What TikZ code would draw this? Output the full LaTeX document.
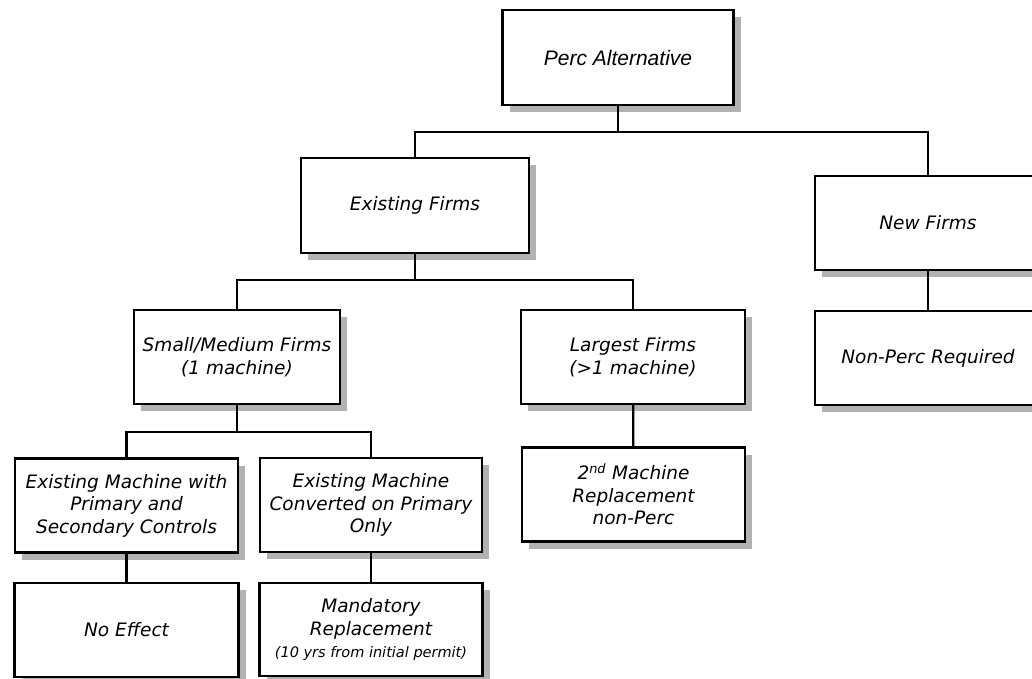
\documentclass[tikz,border=0pt]{standalone}
\usepackage{fontspec}
\setmainfont{DejaVu Sans}
\newfontfamily\arialfont{Liberation Sans}
\usetikzlibrary{shadows}

\tikzset{
  box/.style={draw, rectangle, line width=2.2pt, fill=white, inner sep=0pt, align=center,
    font=\itshape\fontsize{18.5}{22.5}\selectfont,
    drop shadow={shadow xshift=7pt, shadow yshift=-7pt, fill=black!30, opacity=1}},
  link/.style={line width=2.2pt}
}

\begin{document}
\begin{tikzpicture}[x=1pt,y=-1pt]
\useasboundingbox (0,0) rectangle (1032,679);
\clip (0,0) rectangle (1032,679);

\node[box,minimum width=231pt,minimum height=95pt,font=\arialfont\itshape\fontsize{21}{25}\selectfont] (perc) at (618,57.5) {Perc Alternative};
\node[box,minimum width=228pt,minimum height=95pt] (exist) at (415,205.5) {Existing Firms};
\node[box,minimum width=226pt,minimum height=94pt] (newf) at (928,223) {New Firms};
\node[box,minimum width=226pt,minimum height=94pt] (nonperc) at (928,358) {Non-Perc Required};
\node[box,minimum width=206pt,minimum height=94pt] (small) at (237,357) {Small/Medium Firms\\(1 machine)};
\node[box,minimum width=224pt,minimum height=94pt] (large) at (633,357) {Largest Firms\\(\textgreater1 machine)};
\node[box,minimum width=223pt,minimum height=94pt] (primsec) at (126.5,505.5) {Existing Machine with\\Primary and\\Secondary Controls};
\node[box,minimum width=222pt,minimum height=94pt] (conv) at (371,505) {Existing Machine\\Converted on Primary\\Only};
\node[box,minimum width=223pt,minimum height=94pt] (second) at (633.5,494.5) {2\textsuperscript{nd} Machine\\Replacement\\non-Perc};
\node[box,minimum width=224pt,minimum height=94pt] (noeff) at (126.5,630) {No Effect};
\node[box,minimum width=223pt,minimum height=93pt] (mand) at (371,629.5) {Mandatory\\Replacement\\{\fontsize{14.5}{18}\selectfont (10 yrs from initial permit)}};

% junctions of the tree
\coordinate (j1) at (618,132);
\coordinate (j2) at (415,280);
\coordinate (j3) at (237,432);

\draw[link] (perc) -- (j1);
\draw[link] (exist.north) |- (j1) -| (newf.north);
\draw[link] (exist) -- (j2);
\draw[link] (small.north) |- (j2) -| (large.north);
\draw[link] (small) -- (j3);
\draw[link] (primsec.north) |- (j3) -| (conv.north);
\draw[link] (newf) -- (nonperc);
\draw[link] (large) -- (second);
\draw[link] (primsec) -- (noeff);
\draw[link] (conv) -- (mand);
\end{tikzpicture}
\end{document}
